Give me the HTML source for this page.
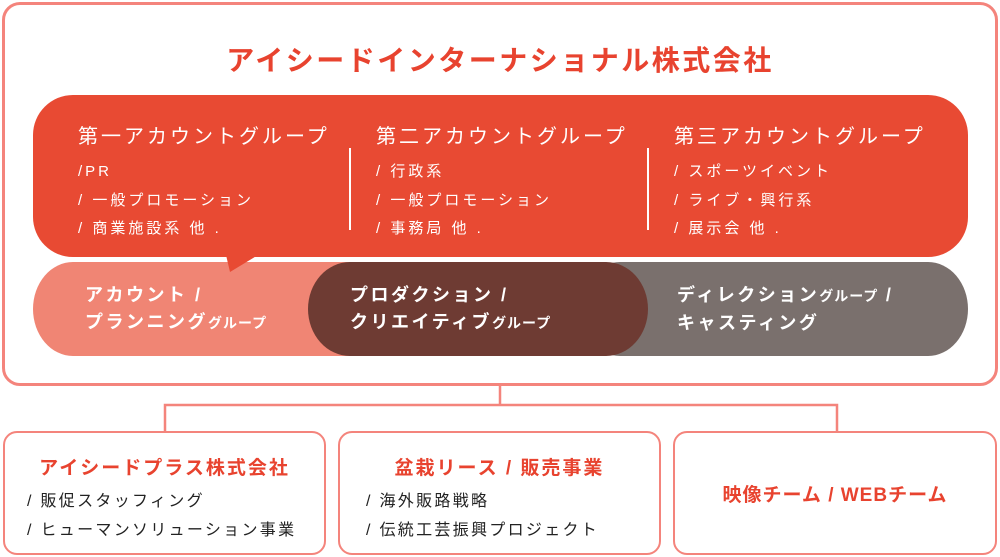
<!DOCTYPE html>
<html><head><meta charset="utf-8"><style>
*{margin:0;padding:0;box-sizing:border-box}
body{width:1000px;height:557px;background:#fff;position:relative;overflow:hidden;font-family:"Liberation Sans","Noto Sans CJK JP",sans-serif}
.a{position:absolute}
.t{white-space:nowrap}
.w{color:#fff}
</style></head><body>
<div class="a" style="left:2px;top:2px;width:996px;height:384px;border:3px solid #f4847c;border-radius:18px"></div>
<div class="a t" style="left:0;width:1000px;top:39px;text-align:center;font-size:28px;font-weight:bold;color:#e8432f;letter-spacing:2.5px">アイシードインターナショナル株式会社</div>
<!-- pills -->
<div class="a" style="left:33px;top:262px;width:380px;height:94px;background:#f08574;border-radius:40px/47px"></div>
<div class="a" style="left:580px;top:262px;width:388px;height:94px;background:#7a706d;border-radius:40px/47px"></div>
<div class="a" style="left:308px;top:262px;width:340px;height:94px;background:#6e3b33;border-radius:42px/47px"></div>
<!-- bubble -->
<div class="a" style="left:33px;top:95px;width:935px;height:162px;background:#e84a33;border-radius:40px"></div>
<svg class="a" style="left:0;top:0" width="1000" height="557"><polygon points="226,255 258,255 230,272" fill="#e84a33"/>
<line x1="500" y1="386" x2="500" y2="405" stroke="#f4847c" stroke-width="2.5"/>
<polyline points="165,432 165,405 837,405 837,432" fill="none" stroke="#f4847c" stroke-width="2.5"/>
<line x1="350" y1="148" x2="350" y2="230" stroke="#fff" stroke-width="2"/>
<line x1="648" y1="148" x2="648" y2="230" stroke="#fff" stroke-width="2"/>
</svg>
<div class="a t w" style="left:78px;top:120px;font-size:20px;letter-spacing:3px">第一アカウントグループ</div>
<div class="a t w" style="left:78px;top:158px;font-size:15px;line-height:28.5px;letter-spacing:3px">/PR<br>/ 一般プロモーション<br>/ 商業施設系 他 .</div>
<div class="a t w" style="left:376px;top:120px;font-size:20px;letter-spacing:3px">第二アカウントグループ</div>
<div class="a t w" style="left:376px;top:158px;font-size:15px;line-height:28.5px;letter-spacing:3px">/ 行政系<br>/ 一般プロモーション<br>/ 事務局 他 .</div>
<div class="a t w" style="left:674px;top:120px;font-size:20px;letter-spacing:3px">第三アカウントグループ</div>
<div class="a t w" style="left:674px;top:158px;font-size:15px;line-height:28.5px;letter-spacing:3px">/ スポーツイベント<br>/ ライブ・興行系<br>/ 展示会 他 .</div>
<div class="a t w" style="left:85px;top:282px;font-size:18px;font-weight:bold;line-height:27px;letter-spacing:2.5px">アカウント /<br>プランニング<span style="font-size:14px;letter-spacing:1px">グループ</span></div>
<div class="a t w" style="left:350px;top:282px;font-size:18px;font-weight:bold;line-height:27px;letter-spacing:2.5px">プロダクション /<br>クリエイティブ<span style="font-size:14px;letter-spacing:1px">グループ</span></div>
<div class="a t w" style="left:677px;top:282px;font-size:18px;font-weight:bold;line-height:27px;letter-spacing:2.5px">ディレクション<span style="font-size:14px;letter-spacing:1px">グループ</span> /<br>キャスティング</div>
<!-- bottom boxes -->
<div class="a" style="left:3px;top:431px;width:323px;height:124px;border:2.5px solid #f4847c;border-radius:14px"></div>
<div class="a" style="left:338px;top:431px;width:323px;height:124px;border:2.5px solid #f4847c;border-radius:14px"></div>
<div class="a" style="left:673px;top:431px;width:324px;height:124px;border:2.5px solid #f4847c;border-radius:14px"></div>
<div class="a t" style="left:3px;width:323px;top:453px;text-align:center;font-size:19px;font-weight:bold;color:#e8432f;letter-spacing:2px">アイシードプラス株式会社</div>
<div class="a t" style="left:27px;top:487px;font-size:16px;line-height:29px;color:#222;letter-spacing:2.3px">/ 販促スタッフィング<br>/ ヒューマンソリューション事業</div>
<div class="a t" style="left:338px;width:323px;top:453px;text-align:center;font-size:19px;font-weight:bold;color:#e8432f;letter-spacing:2px">盆栽リース / 販売事業</div>
<div class="a t" style="left:366px;top:487px;font-size:16px;line-height:29px;color:#222;letter-spacing:2.3px">/ 海外販路戦略<br>/ 伝統工芸振興プロジェクト</div>
<div class="a t" style="left:673px;width:324px;top:480px;text-align:center;font-size:19px;font-weight:bold;color:#e8432f;letter-spacing:1px">映像チーム / WEBチーム</div>
</body></html>
